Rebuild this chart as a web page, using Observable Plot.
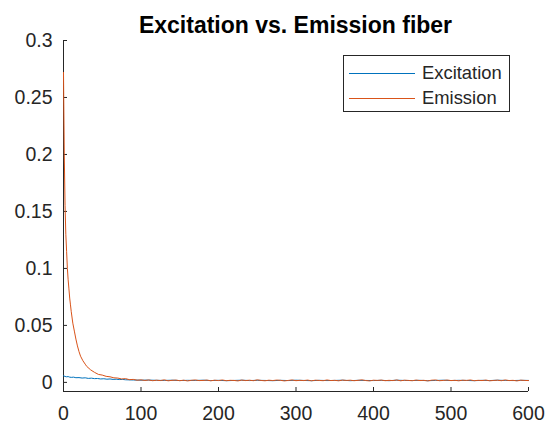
<!DOCTYPE html>
<html>
<head>
<meta charset="utf-8">
<script src="https://cdn.jsdelivr.net/npm/d3@7"></script>
<script src="https://cdn.jsdelivr.net/npm/@observablehq/plot@0.6"></script>
<style>
  html, body { margin: 0; padding: 0; background: #fff; }
  #wrap { position: relative; width: 548px; height: 424px; font-family: "Liberation Sans", Arial, sans-serif; color: #262626; }
  #title { position: absolute; left: 63px; width: 465px; top: 14px; text-align: center; font-weight: bold; font-size: 23px; line-height: 22px; color: #000; }
  #legend { position: absolute; left: 343px; top: 55px; width: 165px; height: 55px; border: 1px solid #262626; background: #fff; font-size: 18.4px; }
  .item { position: absolute; left: 0; height: 20px; width: 165px; }
  .item .sw { position: absolute; left: 5px; top: 9.5px; width: 66px; height: 0; border-top: 1px solid; }
  .item .lb { position: absolute; left: 78px; top: 0; line-height: 20px; }
</style>
</head>
<body>
<div id="wrap">
  <div id="chart"></div>
  <div id="title">Excitation vs. Emission fiber</div>
  <div id="legend"></div>
</div>
<script>
// ---- data ----
const seriesNames = ["Excitation", "Emission"];
const seriesColors = ["#0072BD", "#D95319"];

const emissionHeadX = [0,1,2,3,4,5,6,7,8,9,10,12,14,16,18,20,22,25,28,30,35,40,45,50,55,60,65,70,75,80,85,90,95,100];
const emissionHeadY = [0.272,0.20,0.155,0.13,0.115,0.10,0.09,0.082,0.074,0.068,0.062,0.052,0.045,0.038,0.032,0.027,0.023,0.019,0.016,0.014,0.011,0.0088,0.0070,0.0064,0.0053,0.0049,0.0040,0.0038,0.0030,0.0033,0.0024,0.0026,0.0019,0.0022];
// tail every 5 samples from 105 to 600
const emissionTailY = [
0.0017,0.0021,0.0015,0.0019,0.0016,0.0022,0.0014,0.0018,0.0020,0.0015,
0.0019,0.0013,0.0018,0.0021,0.0016,0.0017,0.0020,0.0014,0.0019,0.0016,
0.0021,0.0015,0.0018,0.0017,0.0013,0.0020,0.0016,0.0019,0.0015,0.0022,
0.0017,0.0014,0.0019,0.0016,0.0020,0.0018,0.0013,0.0017,0.0021,0.0015,
0.0018,0.0016,0.0020,0.0014,0.0019,0.0017,0.0015,0.0021,0.0016,0.0018,
0.0014,0.0020,0.0017,0.0019,0.0015,0.0018,0.0022,0.0016,0.0013,0.0019,
0.0017,0.0020,0.0015,0.0018,0.0016,0.0021,0.0014,0.0019,0.0017,0.0015,
0.0020,0.0016,0.0018,0.0013,0.0019,0.0021,0.0015,0.0017,0.0020,0.0016,
0.0018,0.0014,0.0019,0.0017,0.0021,0.0015,0.0018,0.0016,0.0020,0.0014,
0.0017,0.0019,0.0015,0.0021,0.0016,0.0018,0.0013,0.0019,0.0017,0.0016];

const excitationHeadX = [0,2,4,6,8,10,13,16,20,24,28,32,36,40,44,48,52,56,60,64,68,72,76,80];
const excitationHeadY = [0.0058,0.0052,0.0049,0.0051,0.0046,0.0044,0.0046,0.0041,0.0042,0.0038,0.0040,0.0035,0.0037,0.0033,0.0034,0.0030,0.0032,0.0028,0.0030,0.0026,0.0028,0.0025,0.0026,0.0023];
// tail every 10 samples from 90 to 600
const excitationTailY = [
0.0021,0.0019,0.0020,0.0018,0.0017,0.0019,0.0016,0.0018,0.0017,0.0019,
0.0016,0.0018,0.0015,0.0017,0.0019,0.0016,0.0018,0.0017,0.0015,0.0018,
0.0016,0.0019,0.0017,0.0015,0.0018,0.0016,0.0017,0.0019,0.0015,0.0018,
0.0017,0.0016,0.0018,0.0015,0.0019,0.0017,0.0016,0.0018,0.0015,0.0017,
0.0019,0.0016,0.0018,0.0017,0.0015,0.0018,0.0016,0.0019,0.0017,0.0016,
0.0018,0.0017];

const xTicks = [0,100,200,300,400,500,600];
const yTicks = [0,0.05,0.1,0.15,0.2,0.25,0.3];
const xDomain = [0, 600];
const yDomain = [-0.008, 0.3];

// ---- build tables ----
const emissionX = emissionHeadX.concat(d3.range(105, 601, 5));
const emissionY = emissionHeadY.concat(emissionTailY);
const excitationX = excitationHeadX.concat(d3.range(90, 601, 10));
const excitationY = excitationHeadY.concat(excitationTailY);

const rows = [];
excitationX.forEach((x, i) => rows.push({series: "Excitation", x, y: excitationY[i]}));
emissionX.forEach((x, i) => rows.push({series: "Emission", x, y: emissionY[i]}));

const axisColor = "#262626";
const chart = Plot.plot({
  width: 548,
  height: 424,
  marginTop: 40,
  marginBottom: 33,
  marginLeft: 63,
  marginRight: 20,
  style: {fontFamily: "'Liberation Sans', Arial, sans-serif", fontSize: "19.5px", color: axisColor, background: "#fff"},
  x: {domain: xDomain},
  y: {domain: yDomain},
  color: {domain: seriesNames, range: seriesColors},
  marks: [
    Plot.ruleX([xDomain[0]], {stroke: axisColor, strokeWidth: 1}),
    Plot.ruleY([yDomain[0]], {stroke: axisColor, strokeWidth: 1}),
    // labels
    Plot.axisY({ticks: yTicks, tickSize: 0, tickPadding: 11, tickFormat: d => String(+d.toFixed(2)), label: null}),
    Plot.axisX({ticks: xTicks, tickSize: 0, tickPadding: 15, tickFormat: d => String(d), label: null}),
    // inward tick marks
    Plot.axisY({ticks: yTicks, tickSize: 4, dx: 4, tickFormat: () => "", label: null, stroke: axisColor}),
    Plot.axisX({ticks: xTicks, tickSize: 4, dy: -4, tickFormat: () => "", label: null, stroke: axisColor}),
    Plot.line(rows, {x: "x", y: "y", z: "series", stroke: "series", strokeWidth: 1})
  ]
});
document.getElementById("chart").appendChild(chart);

// legend
const leg = document.getElementById("legend");
seriesNames.forEach((name, i) => {
  const it = document.createElement("div");
  it.className = "item";
  it.style.top = (i === 0 ? 7 : 32) + "px";
  it.innerHTML = `<div class="sw" style="border-color:${seriesColors[i]}"></div><div class="lb">${name}</div>`;
  leg.appendChild(it);
});
</script>
</body>
</html>
